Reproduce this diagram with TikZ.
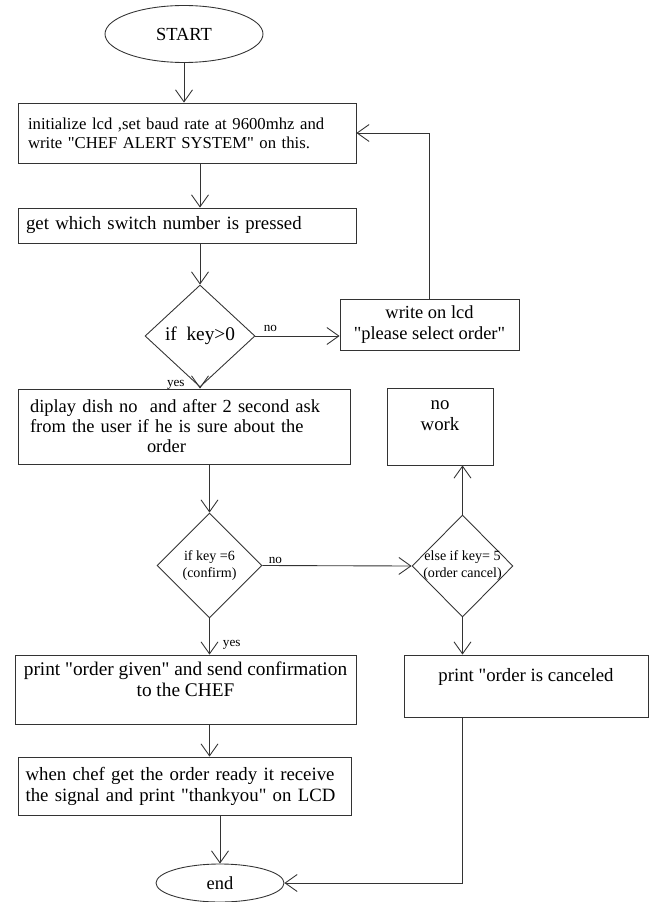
\documentclass[tikz,border=0pt]{standalone}
\usepackage{fontspec}
\setmainfont{Liberation Serif}
\usetikzlibrary{shapes.geometric,arrows.meta}
\newcommand\qt{\textquotedbl}
\tikzset{
  terminal/.style={
    shape = ellipse,
    draw = black!80,
    inner sep = 0pt,
    font = \fontsize{10.5}{12}\selectfont
  },
  procbox/.style={
    shape = rectangle,
    draw = black!80,
    inner sep = 0pt,
    font = \fontsize{10.7}{12}\selectfont
  },
  decision/.style={
    shape = diamond,
    draw = black!80,
    inner sep = 0pt,
    font = \fontsize{11}{12}\selectfont
  },
  choicetext/.style={
    align = center,
    inner sep = 0pt,
    font = \fontsize{8}{9.7}\selectfont
  },
  answer/.style={
    inner sep = 0pt,
    font = \fontsize{7.5}{8}\selectfont
  },
  flowarrow/.style={
    draw = black!80,
    -{Straight Barb[length=2.4mm,width=3.4mm]}
  },
}
\begin{document}
\begin{tikzpicture}[x=0.02cm, y=-0.02cm, line width=0.5pt]
 \useasboundingbox (0,0) rectangle (653,902);
 % left column
 \node[terminal, minimum width=3.16cm, minimum height=1.14cm] (start) at (184,34) {START};
 \node[procbox, font=\fontsize{9.5}{10.8}\selectfont, minimum width=6.76cm, minimum height=1.2cm,
   text width=6.36cm, inner xsep=0.2cm, align=left] (init) at (187,133)
   {initialize lcd ,set baud rate at 9600mhz and\\write \qt CHEF ALERT SYSTEM\qt{} on this.};
 \node[procbox, minimum width=6.76cm, minimum height=0.7cm,
   text width=6.44cm, inner xsep=0.16cm, align=left] (getkey) at (187,225.5)
   {get which switch number is pressed};
 \node[decision, minimum width=2.2cm, minimum height=2.04cm] (ifkey) at (200,336) {if~ key>0};
 \node[procbox, font=\fontsize{10.5}{11.4}\selectfont, minimum width=6.64cm, minimum height=1.5cm,
   text width=6.16cm, inner xsep=0.24cm, align=left] (dish) at (184,426.5)
   {diplay dish no~ and after 2 second ask\\from the user if he is sure about the\\\hspace*{2.34cm}order};
 \node[decision, minimum width=2.1cm, minimum height=2.1cm,
   label={[choicetext]center:if key =6\\(confirm)}] (ifconfirm) at (209.5,565.5) {};
 \node[procbox, font=\fontsize{11}{12}\selectfont, minimum width=6.82cm, minimum height=1.38cm,
   align=center] (given) at (185.5,689.5)
   {print \qt order given\qt{} and send confirmation\\to the CHEF\\\mbox{}};
 \node[procbox, minimum width=6.66cm, minimum height=1.16cm,
   text width=6.36cm, inner xsep=0.15cm, align=left] (thanks) at (184.5,786)
   {when chef get the order ready it receive\\the signal and print \qt thankyou\qt{} on LCD};
 \node[terminal, minimum width=2.56cm, minimum height=0.76cm] (finish) at (220,883) {end};
 % right column
 \node[procbox, font=\fontsize{10.5}{12}\selectfont, minimum width=3.58cm, minimum height=1.02cm,
   align=center] (select) at (429.5,324.5)
   {write on lcd\\\qt please select order\qt};
 \node[procbox, minimum width=2.12cm, minimum height=1.54cm, align=center] (nowork) at (440,426.5)
   {no\\work\\\mbox{}};
 \node[decision, minimum width=2.02cm, minimum height=2.04cm,
   label={[choicetext]center:else if key= 5\\(order cancel)}] (ifcancel) at (462.5,566) {};
 \node[procbox, minimum width=4.88cm, minimum height=1.24cm, align=center] (cancel) at (526,686)
   {print \qt order is canceled\\\mbox{}};
 % connectors
 \draw[flowarrow] (start.south) -- (start.south |- init.north);
 \draw[flowarrow] (init.south -| ifkey.north) -- (getkey.north -| ifkey.north);
 \draw[flowarrow] (getkey.south -| ifkey.north) -- (ifkey.north);
 \draw[flowarrow] (ifkey.east) -- node[answer, pos=0, anchor=base west, xshift=0.16cm, yshift=0.1cm] {no}
   (ifkey.east -| select.west);
 \draw[flowarrow] (select.north) |- (init.east);
 \draw[flowarrow] (ifkey.south) -- node[answer, pos=0, anchor=base east, xshift=-0.3cm, yshift=0.02cm] {yes}
   (ifkey.south |- dish.north);
 \draw[flowarrow] (dish.south -| ifconfirm.north) -- (ifconfirm.north);
 \draw[flowarrow] (ifconfirm.east) -- node[answer, pos=0, anchor=base west, xshift=0.12cm, yshift=0.04cm] {no}
   (ifcancel.west);
 \draw[flowarrow] (ifcancel.north) -- (ifcancel.north |- nowork.south);
 \draw[flowarrow] (ifconfirm.south) -- node[answer, pos=1, anchor=base west, xshift=0.26cm, yshift=0.16cm] {yes}
   (ifconfirm.south |- given.north);
 \draw[flowarrow] (ifcancel.south) -- (ifcancel.south |- cancel.north);
 \draw[flowarrow] (given.south -| ifconfirm.south) -- (thanks.north -| ifconfirm.south);
 \draw[flowarrow] (thanks.south -| finish.north) -- (finish.north);
 \draw[flowarrow] (cancel.south -| ifcancel.south) |- (finish.east);
\end{tikzpicture}
\end{document}
